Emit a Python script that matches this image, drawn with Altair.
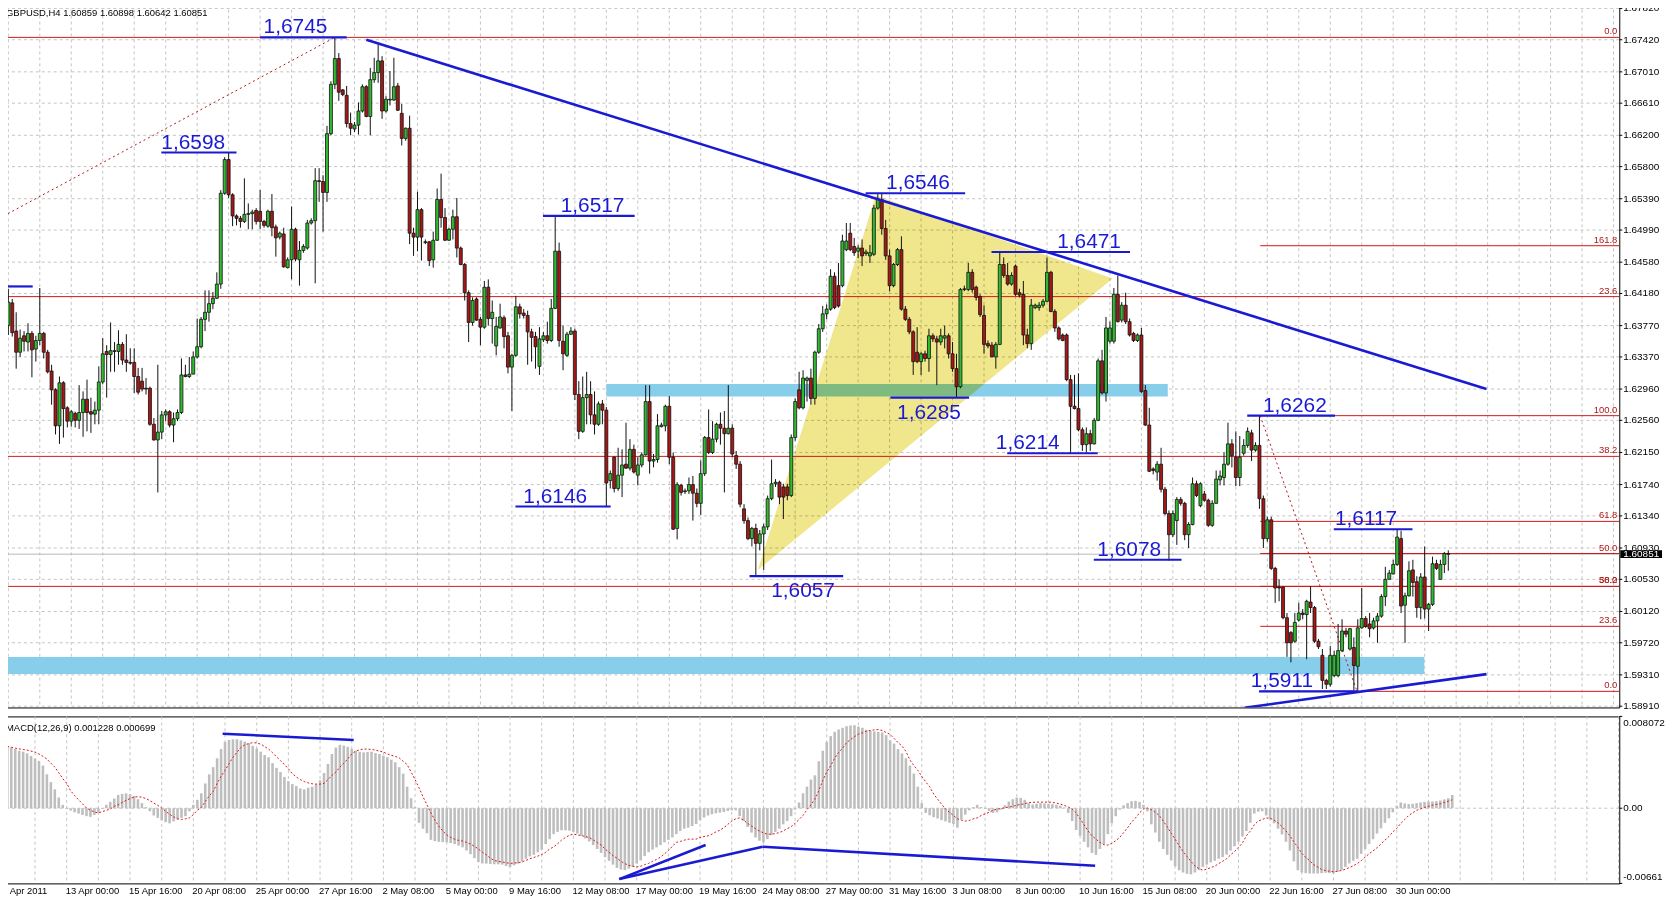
import altair as alt
import pandas as pd

FONT = "Liberation Sans"
BLUE = "#1a1ad2"
FIB_RED = "#d01818"
BULL = "#2fbd2f"
BEAR = "#a81616"

# ---------------- time axis ----------------
time_labels = [
    "8 Apr 2011", "13 Apr 00:00", "15 Apr 16:00", "20 Apr 08:00", "25 Apr 00:00",
    "27 Apr 16:00", "2 May 08:00", "5 May 00:00", "9 May 16:00", "12 May 08:00",
    "17 May 00:00", "19 May 16:00", "24 May 08:00", "27 May 00:00", "31 May 16:00",
    "3 Jun 08:00", "8 Jun 00:00", "10 Jun 16:00", "15 Jun 08:00", "20 Jun 00:00",
    "22 Jun 16:00", "27 Jun 08:00", "30 Jun 00:00",
]
BARS_PER_LABEL = 16
GRID_EVERY = 8

# ---------------- GBPUSD H4 candles (price x 10000) ----------------
open_pips = [
    16377,16406,16370,16343,16364,16356,16367,16347,16358,16367,
    16343,16319,16295,16249,16304,16272,16255,16265,16256,16266,
    16283,16267,16264,16269,16305,16344,16340,16345,16344,16353,
    16333,16330,16330,16312,16306,16297,16297,16251,16231,16241,
    16263,16267,16250,16258,16266,16314,16312,16315,16337,16350,
    16385,16394,16405,16412,16430,16546,16589,16544,16517,16514,
    16510,16519,16520,16524,16523,16510,16504,16523,16503,16490,
    16494,16451,16461,16500,16461,16473,16476,16508,16511,16562,
    16561,16547,16622,16685,16718,16678,16671,16635,16628,16633,
    16651,16682,16644,16691,16700,16715,16651,16665,16665,16683,
    16648,16616,16629,16495,16490,16525,16484,16484,16461,16486,
    16538,16515,16486,16500,16516,16476,16455,16419,16381,16411,
    16385,16375,16426,16386,16351,16374,16387,16364,16324,16339,
    16401,16393,16390,16369,16363,16325,16359,16364,16358,16399,
    16472,16357,16339,16366,16370,16289,16242,16285,16289,16263,
    16251,16277,16269,16179,16209,16169,16186,16200,16195,16219,
    16186,16199,16212,16280,16204,16206,16248,16249,16274,16209,
    16118,16173,16165,16166,16174,16163,16150,16188,16234,16215,
    16232,16251,16246,16239,16246,16211,16200,16143,16128,16105,
    16118,16099,16111,16120,16156,16175,16177,16171,16171,16160,
    16234,16295,16272,16307,16310,16284,16343,16373,16392,16398,
    16440,16428,16428,16474,16495,16478,16472,16476,16469,16466,
    16468,16527,16538,16501,16466,16428,16455,16474,16398,16385,
    16369,16343,16331,16341,16335,16364,16360,16356,16361,16364,
    16341,16322,16299,16423,16423,16445,16426,16414,16390,16354,
    16352,16337,16353,16455,16441,16430,16453,16419,16417,16365,
    16354,16400,16400,16403,16408,16445,16395,16374,16365,16365,
    16308,16274,16271,16244,16225,16239,16226,16256,16332,16291,
    16357,16357,16417,16384,16403,16382,16367,16358,16365,16294,
    16250,16194,16190,16200,16168,16137,16110,16128,16155,16150,
    16110,16123,16175,16147,16162,16154,16122,16150,16180,16183,
    16200,16226,16209,16183,16214,16224,16240,16218,16224,16156,
    16105,16129,16067,16043,16043,16004,15985,15974,16001,16010,
    16008,16024,16017,15974,15956,15924,15919,15930,15930,15962,
    15987,15964,15966,15942,15991,16003,15996,15991,16000,16006,
    16031,16053,16060,16072,16105,16020,16032,16065,16050,16017,
    16056,16015,16021,16073,16053,16072,16086,
]
high_pips = [
    16424,16411,16394,16372,16370,16380,16370,16364,16425,16369,
    16346,16327,16297,16312,16306,16274,16269,16267,16301,16293,
    16308,16285,16280,16325,16361,16352,16381,16356,16371,16356,
    16366,16348,16348,16323,16323,16310,16299,16259,16327,16268,
    16270,16269,16266,16270,16335,16327,16337,16344,16386,16388,
    16422,16422,16420,16445,16550,16592,16598,16546,16519,16517,
    16565,16533,16525,16527,16550,16512,16525,16545,16506,16497,
    16502,16464,16529,16502,16485,16481,16512,16514,16578,16578,
    16569,16632,16689,16745,16725,16679,16683,16649,16637,16662,
    16685,16684,16706,16719,16736,16721,16670,16702,16719,16687,
    16660,16630,16645,16502,16548,16527,16487,16485,16497,16552,
    16571,16527,16502,16525,16540,16478,16457,16422,16413,16413,
    16388,16434,16436,16409,16388,16405,16390,16369,16341,16415,
    16405,16398,16396,16373,16369,16375,16369,16382,16411,16517,
    16483,16377,16369,16375,16373,16306,16312,16318,16306,16293,
    16280,16282,16273,16192,16210,16221,16219,16253,16232,16225,
    16209,16215,16301,16301,16213,16264,16253,16276,16287,16215,
    16177,16175,16169,16183,16185,16169,16205,16236,16270,16255,
    16253,16266,16268,16301,16251,16217,16204,16149,16132,16120,
    16124,16116,16124,16160,16206,16181,16179,16175,16175,16238,
    16284,16318,16320,16312,16322,16345,16379,16402,16404,16449,
    16445,16457,16493,16508,16508,16489,16480,16487,16474,16480,
    16531,16545,16546,16512,16474,16457,16476,16491,16402,16388,
    16371,16375,16343,16345,16373,16367,16364,16373,16377,16367,
    16356,16341,16425,16428,16457,16449,16428,16417,16403,16358,
    16356,16356,16471,16464,16457,16445,16455,16424,16434,16373,
    16411,16405,16407,16411,16464,16447,16398,16376,16367,16367,
    16314,16314,16316,16247,16247,16244,16259,16335,16346,16388,
    16382,16425,16441,16407,16419,16386,16369,16367,16374,16301,
    16272,16196,16204,16221,16171,16141,16141,16158,16158,16152,
    16126,16183,16179,16177,16166,16156,16154,16192,16192,16215,
    16253,16232,16242,16236,16232,16247,16244,16228,16262,16160,
    16133,16133,16069,16053,16044,16010,15987,16010,16023,16015,
    16027,16044,16019,15977,15964,15926,15968,15962,15996,16002,
    15991,15991,15979,16002,16042,16006,16010,16004,16010,16034,
    16069,16065,16078,16117,16115,16036,16076,16078,16057,16061,
    16095,16023,16082,16078,16078,16088,16090,
]
low_pips = [
    16365,16363,16322,16337,16344,16344,16311,16331,16352,16335,
    16316,16276,16238,16226,16234,16247,16248,16247,16245,16235,
    16242,16240,16251,16251,16302,16285,16318,16318,16327,16327,
    16318,16327,16291,16289,16293,16289,16249,16230,16164,16232,
    16255,16247,16228,16255,16264,16311,16310,16315,16335,16348,
    16370,16382,16398,16411,16424,16544,16540,16504,16505,16502,
    16508,16500,16500,16506,16500,16502,16502,16491,16465,16487,
    16451,16450,16436,16459,16428,16470,16474,16506,16431,16535,
    16497,16535,16620,16679,16664,16670,16630,16620,16624,16621,
    16649,16643,16620,16687,16687,16641,16649,16658,16664,16651,
    16607,16613,16481,16466,16472,16460,16481,16453,16451,16485,
    16502,16485,16485,16487,16464,16454,16409,16356,16377,16383,
    16352,16373,16377,16354,16339,16373,16348,16316,16268,16337,
    16386,16386,16327,16331,16322,16314,16356,16354,16356,16398,
    16350,16320,16337,16365,16282,16232,16240,16251,16251,16238,
    16249,16251,16146,16169,16164,16166,16158,16194,16192,16188,
    16173,16196,16211,16188,16196,16202,16247,16242,16200,16116,
    16104,16160,16162,16162,16128,16145,16135,16185,16213,16213,
    16228,16225,16164,16238,16209,16194,16145,16124,16103,16095,
    16057,16090,16065,16116,16154,16171,16149,16130,16154,16158,
    16230,16270,16270,16280,16276,16276,16341,16369,16385,16396,
    16398,16400,16426,16472,16472,16466,16463,16453,16466,16457,
    16466,16525,16493,16461,16421,16426,16453,16396,16383,16366,
    16314,16329,16314,16331,16318,16356,16301,16352,16348,16335,
    16318,16285,16297,16421,16421,16419,16409,16388,16341,16348,
    16337,16322,16352,16438,16428,16428,16415,16413,16352,16348,
    16346,16398,16396,16400,16407,16394,16369,16358,16357,16306,
    16213,16270,16242,16217,16215,16217,16225,16255,16289,16280,
    16354,16354,16381,16381,16379,16363,16356,16356,16291,16249,
    16190,16187,16179,16164,16135,16077,16107,16097,16147,16103,
    16093,16122,16158,16145,16152,16120,16120,16150,16173,16173,
    16198,16196,16172,16172,16211,16221,16204,16216,16143,16093,
    16101,16065,16023,16025,16002,15954,15947,15972,15999,16002,
    15951,16010,15972,15964,15913,15913,15916,15928,15928,15960,
    15979,15962,15911,15910,15990,15991,15979,15989,15972,16004,
    16019,16053,16059,16070,16010,15972,16031,16031,16004,16002,
    16003,15987,16019,16065,16053,16061,16064,
]
close_pips = [
    16407,16368,16343,16361,16357,16367,16346,16358,16367,16343,
    16318,16295,16249,16304,16271,16255,16267,16256,16266,16283,
    16266,16264,16269,16305,16341,16340,16345,16344,16353,16333,
    16330,16329,16312,16292,16296,16296,16251,16231,16241,16263,
    16267,16250,16258,16266,16314,16312,16315,16337,16350,16385,
    16394,16405,16412,16430,16546,16589,16544,16517,16514,16510,
    16519,16520,16522,16510,16510,16505,16523,16502,16489,16495,
    16452,16461,16500,16462,16473,16478,16508,16511,16562,16561,
    16547,16622,16685,16718,16675,16672,16635,16629,16633,16651,
    16682,16644,16691,16700,16715,16651,16666,16666,16682,16652,
    16616,16629,16495,16490,16525,16490,16483,16460,16486,16538,
    16515,16486,16500,16516,16476,16455,16419,16381,16409,16384,
    16375,16426,16386,16394,16376,16388,16363,16324,16339,16401,
    16392,16390,16369,16362,16350,16360,16364,16358,16399,16472,
    16358,16341,16366,16370,16289,16242,16285,16289,16263,16251,
    16277,16269,16176,16188,16169,16186,16199,16195,16219,16190,
    16199,16212,16280,16204,16206,16249,16250,16274,16209,16117,
    16174,16164,16166,16174,16163,16150,16188,16234,16215,16232,
    16251,16246,16239,16246,16213,16200,16149,16128,16105,16118,
    16099,16111,16120,16156,16175,16177,16158,16158,16160,16234,
    16280,16272,16310,16310,16284,16343,16373,16392,16398,16440,
    16400,16402,16485,16485,16474,16470,16476,16466,16471,16470,
    16527,16538,16501,16466,16428,16455,16474,16398,16385,16369,
    16331,16331,16341,16335,16364,16360,16356,16364,16364,16341,
    16322,16299,16423,16424,16445,16423,16413,16391,16353,16351,
    16337,16353,16455,16441,16430,16441,16417,16416,16365,16354,
    16403,16403,16403,16408,16445,16395,16374,16360,16358,16308,
    16274,16271,16244,16225,16239,16226,16256,16332,16291,16374,
    16374,16417,16382,16403,16382,16365,16358,16365,16293,16250,
    16191,16192,16200,16168,16137,16110,16137,16155,16150,16110,
    16123,16175,16160,16175,16154,16122,16150,16181,16185,16200,
    16226,16211,16183,16209,16224,16242,16218,16224,16156,16105,
    16129,16067,16042,16042,16004,15972,15972,15998,16010,16008,
    16025,16017,15974,15967,15924,15919,15956,15956,15962,15987,
    15983,15990,15943,15991,16003,15993,15990,16000,16006,16031,
    16053,16061,16072,16107,16019,16032,16064,16049,16017,16056,
    16015,16021,16073,16067,16072,16086,16085,
]

# ---------------- MACD(12,26,9) (value x 100000) ----------------
macd_main_e5 = [
    557,548,534,520,505,497,482,459,436,416,
    375,298,229,166,94,30,-7,-21,-36,-47,
    -59,-70,-76,-59,-36,-7,30,56,85,117,
    125,131,123,108,79,45,10,-27,-64,-85,
    -105,-122,-133,-116,-99,-85,-70,-27,30,74,
    131,218,298,361,439,520,583,600,606,606,
    597,586,571,548,525,497,468,448,396,355,
    318,275,238,212,195,174,166,180,189,209,
    246,309,390,477,534,557,551,540,522,505,
    497,491,494,497,485,477,462,448,427,404,
    361,304,189,88,10,-128,-180,-220,-278,-289,
    -295,-298,-300,-306,-315,-329,-344,-372,-404,-439,
    -473,-485,-487,-490,-493,-493,-496,-508,-516,-502,
    -487,-467,-444,-424,-410,-387,-364,-315,-272,-228,
    -208,-194,-194,-197,-208,-223,-243,-266,-292,-324,
    -358,-393,-430,-462,-496,-525,-539,-545,-531,-516,
    -487,-459,-421,-387,-364,-344,-324,-300,-278,-257,
    -228,-200,-180,-171,-157,-139,-105,-82,-64,-53,
    -44,-39,-33,-24,-18,-18,-70,-113,-165,-214,
    -257,-286,-300,-272,-237,-208,-180,-142,-113,-70,
    -13,51,131,189,252,289,413,505,583,634,
    672,692,707,721,727,730,718,707,689,681,
    675,672,666,643,597,568,520,482,439,375,
    304,189,45,-41,-62,-79,-90,-105,-116,-128,
    -139,-171,-99,-56,-18,10,30,10,-7,-24,
    -41,-36,-13,27,59,79,94,91,74,45,
    33,39,45,42,39,36,30,22,7,-41,
    -113,-191,-243,-295,-344,-393,-410,-358,-315,-228,
    -133,-70,-13,25,45,62,65,56,30,-27,
    -142,-214,-295,-358,-410,-459,-510,-545,-565,-577,
    -582,-565,-545,-516,-496,-476,-462,-444,-430,-407,
    -372,-335,-295,-249,-200,-128,-47,-30,-27,-64,
    -99,-133,-180,-231,-295,-372,-467,-545,-565,-571,
    -574,-574,-574,-571,-568,-571,-574,-559,-542,-516,
    -485,-462,-444,-401,-358,-315,-272,-223,-177,-128,
    -88,-36,22,51,42,36,39,45,51,56,
    59,59,62,68,77,88,117,
]
macd_signal_e5 = [
    551,543,537,528,522,517,511,502,494,477,
    456,433,396,361,312,261,218,154,111,74,
    39,2,-18,-33,-41,-30,-18,-7,16,30,
    51,68,85,97,102,97,85,68,45,25,
    2,-27,-53,-76,-93,-99,-93,-85,-56,-18,
    7,59,108,146,218,281,333,390,448,491,
    534,557,568,577,574,563,543,520,488,453,
    419,384,347,304,275,252,235,223,215,212,
    212,218,252,289,318,361,396,433,477,502,
    514,520,520,517,511,502,494,477,465,456,
    442,413,384,318,252,180,102,30,-41,-105,
    -157,-200,-234,-257,-272,-283,-289,-300,-315,-335,
    -358,-387,-410,-439,-459,-467,-473,-479,-485,-482,
    -479,-473,-459,-444,-433,-421,-407,-387,-358,-341,
    -312,-281,-257,-237,-228,-234,-240,-249,-257,-278,
    -300,-324,-358,-387,-416,-439,-467,-487,-502,-510,
    -516,-510,-496,-485,-467,-450,-430,-401,-372,-335,
    -300,-292,-281,-272,-272,-272,-257,-249,-243,-228,
    -208,-194,-171,-142,-113,-93,-85,-105,-133,-157,
    -180,-200,-217,-228,-228,-223,-214,-200,-180,-162,
    -133,-99,-64,-13,30,79,154,246,318,375,
    439,491,528,577,603,629,652,663,678,683,
    689,692,683,666,649,614,577,548,500,425,
    375,333,281,232,189,125,79,36,-7,-36,
    -64,-93,-105,-113,-108,-93,-85,-64,-50,-36,
    -18,-7,-4,5,10,16,27,33,39,51,
    51,54,54,54,54,51,45,36,25,10,
    -7,-41,-93,-145,-200,-243,-272,-300,-321,-324,
    -309,-286,-257,-214,-171,-122,-85,-41,-7,2,
    -13,-36,-64,-113,-162,-220,-272,-329,-381,-424,
    -467,-507,-531,-545,-536,-522,-510,-487,-467,-444,
    -410,-381,-344,-306,-243,-200,-145,-113,-99,-85,
    -88,-105,-128,-162,-200,-243,-295,-344,-396,-433,
    -462,-496,-516,-539,-548,-554,-559,-554,-548,-536,
    -522,-507,-487,-462,-430,-401,-375,-347,-315,-281,
    -249,-208,-177,-133,-99,-64,-41,-18,-7,7,
    16,27,33,39,51,62,74,
]

# ---------------- axis ticks ----------------
price_ticks = [1.67820, 1.67420, 1.67010, 1.66610, 1.66200, 1.65800, 1.65390, 1.64990,
               1.64580, 1.64180, 1.63770, 1.63370, 1.62960, 1.62560, 1.62150, 1.61740,
               1.61340, 1.60930, 1.60530, 1.60120, 1.59720, 1.59310, 1.58910]
macd_top, macd_zero, macd_bottom = 0.008072, 0.0, -0.00661
macd_tick_text = ["0.008072", "0.00", "-0.00661"]
last_price = 1.60851

# ---------------- annotations ----------------
level_text = ["1,6745", "1,6598", "1,6517", "1,6146", "1,6057", "1,6546", "1,6285",
              "1,6471", "1,6214", "1,6078", "1,6262", "1,6117", "1,5911"]
level_price = [1.6745, 1.6598, 1.6517, 1.6146, 1.6057, 1.6546, 1.6285,
               1.6471, 1.6214, 1.6078, 1.6262, 1.6117, 1.5910]
level_start = [64.0, 38.9, 135.9, 128.9, 188.4, 217.9, 224.2, 249.9, 253.9, 275.9, 314.9, 336.9, 317.9]
level_end = [86.0, 58.0, 159.2, 153.1, 212.2, 243.2, 244.2, 285.1, 276.9, 298.2, 337.2, 356.9, 342.9]
level_label_bar = [73.0, 47.0, 148.5, 139.0, 202.0, 231.2, 234.0, 274.7, 259.1, 284.9, 327.0, 345.1, 323.7]
level_label_side = ["above", "above", "above", "above", "below", "above", "below",
                    "above", "above", "above", "above", "above", "above"]
stub_start, stub_end, stub_price = -0.08, 6.2, 1.6427

trend_start_bar = [91.0, 314.2]
trend_start_price = [1.6742, 1.5889]
trend_end_bar = [375.7, 375.7]
trend_end_price = [1.6296, 1.5932]

zone_start = [152.0, -0.08]
zone_end = [294.7, 359.9]
zone_low = [1.62865, 1.5932]
zone_high = [1.63025, 1.5954]

tri_bar = [190.5, 220.5, 280.7]
tri_price = [1.6065, 1.6543, 1.6437]

fib_main_price = [1.6745, 1.6414, 1.6210, 1.6044]
fib_main_label = ["0.0", "23.6", "38.2", "50.0"]
fib_recent_price = [1.5910, 1.5993, 1.6044, 1.6086, 1.6127, 1.6262, 1.6479]
fib_recent_label = ["0.0", "23.6", "38.2", "50.0", "61.8", "100.0", "161.8"]
fib_recent_start = 318.2
fib_trend_start_bar = [-0.08, 318.2]
fib_trend_start_price = [1.6520, 1.6262]
fib_trend_end_bar = [83.0, 342.8]
fib_trend_end_price = [1.6745, 1.5910]

macd_line_start_bar = [55.4, 155.6, 155.6, 191.8]
macd_line_start_val = [0.00655, -0.00623, -0.00623, -0.00338]
macd_line_end_bar = [88.5, 177.4, 191.8, 275.8]
macd_line_end_val = [0.00600, -0.00323, -0.00338, -0.00506]

title_main = "GBPUSD,H4  1.60859 1.60898 1.60642 1.60851"
title_macd = "MACD(12,26,9) 0.001228 0.000699"

# ---------------- layout ----------------
W, H1, H2 = 1626, 708, 168
X_DOMAIN = [-0.08, 408.2]
Y_DOMAIN = [1.58894, 1.67880]
M_DOMAIN = [macd_bottom, macd_top]
AX_FS = 10

xs = alt.Scale(domain=X_DOMAIN, nice=False, zero=False)
ys = alt.Scale(domain=Y_DOMAIN, nice=False, zero=False)
ms = alt.Scale(domain=M_DOMAIN, nice=False, zero=False)


def X(f):
    return alt.X(f"{f}:Q", scale=xs, axis=None)


def Y(f):
    return alt.Y(f"{f}:Q", scale=ys, axis=None)


def M(f):
    return alt.Y(f"{f}:Q", scale=ms, axis=None)


# ---------------- tables ----------------
n = len(close_pips)
candles = pd.DataFrame({
    "bar": list(range(n)),
    "open": [v / 10000 for v in open_pips],
    "high": [v / 10000 for v in high_pips],
    "low": [v / 10000 for v in low_pips],
    "close": [v / 10000 for v in close_pips],
})
candles["dir"] = ["up" if c >= o else "down" for o, c in zip(candles["open"], candles["close"])]

macd = pd.DataFrame({
    "bar": list(range(len(macd_main_e5))),
    "h": [v / 100000 for v in macd_main_e5],
    "s": [v / 100000 for v in macd_signal_e5],
})

grid_bars = pd.DataFrame({"b": list(range(0, int(X_DOMAIN[1]) + 1, GRID_EVERY))})
price_lab = pd.DataFrame({"p": price_ticks, "t": [f"{p:.5f}" for p in price_ticks]})
time_lab = pd.DataFrame({"b": [BARS_PER_LABEL * k for k in range(len(time_labels))], "t": time_labels})

levels = pd.DataFrame({"t": level_text, "p": level_price, "b0": level_start, "b1": level_end,
                       "b": level_label_bar, "side": level_label_side})
level_lines = pd.concat([levels[["p", "b0", "b1"]],
                         pd.DataFrame({"p": [stub_price], "b0": [stub_start], "b1": [stub_end]})])
trends = pd.DataFrame({"b0": trend_start_bar, "p0": trend_start_price,
                       "b1": trend_end_bar, "p1": trend_end_price})
zones = pd.DataFrame({"b0": zone_start, "b1": zone_end, "p0": zone_low, "p1": zone_high})
lower_mid = tri_price[0] + (tri_price[2] - tri_price[0]) * (tri_bar[1] - tri_bar[0]) / (tri_bar[2] - tri_bar[0])
tri = pd.DataFrame({"b": tri_bar, "top": tri_price,
                    "bottom": [tri_price[0], lower_mid, tri_price[2]]})
fib_main = pd.DataFrame({"p": fib_main_price, "t": fib_main_label})
fib_recent = pd.DataFrame({"p": fib_recent_price, "t": fib_recent_label,
                           "b0": [fib_recent_start] * len(fib_recent_price)})
fib_trends = pd.DataFrame({"b0": fib_trend_start_bar, "p0": fib_trend_start_price,
                           "b1": fib_trend_end_bar, "p1": fib_trend_end_price})
macd_lines = pd.DataFrame({"b0": macd_line_start_bar, "v0": macd_line_start_val,
                           "b1": macd_line_end_bar, "v1": macd_line_end_val})
price_box = pd.DataFrame({"p": [last_price], "top": [last_price + 0.0005], "bot": [last_price - 0.0005],
                          "t": [f"{last_price:.5f}"]})

GRID = dict(color="#c4c4c4", strokeDash=[3, 3], strokeWidth=1)
AXT = dict(font=FONT, fontSize=AX_FS, color="black")

# ---------------- main panel ----------------
hgrid = alt.Chart(price_lab).mark_rule(**GRID).encode(y=Y("p"))
vgrid = alt.Chart(grid_bars).mark_rule(**GRID).encode(x=X("b"))
cur_line = alt.Chart(price_box).mark_rule(color="#b8b8b8", strokeWidth=1).encode(y=Y("p"))
zone_l = alt.Chart(zones).mark_rect(color="#87ceeb").encode(x=X("b0"), x2="b1", y=Y("p0"), y2="p1")
tri_l = alt.Chart(tri).mark_area(color="#f0e68c", blend="multiply", opacity=1).encode(
    x=X("b"), y=Y("top"), y2="bottom")
fib_main_l = alt.Chart(fib_main).mark_rule(color=FIB_RED, strokeWidth=1).encode(y=Y("p"))
fib_recent_l = alt.Chart(fib_recent).mark_rule(color=FIB_RED, strokeWidth=1).encode(
    x=X("b0"), x2=alt.value(W), y=Y("p"))
fib_main_t = alt.Chart(fib_main).mark_text(align="right", baseline="bottom", dx=-2, dy=-1,
                                           fontSize=9.5, font=FONT, color="#b01818").encode(
    x=alt.value(W), y=Y("p"), text="t:N")
fib_recent_t = alt.Chart(fib_recent).mark_text(align="right", baseline="bottom", dx=-2, dy=-1,
                                               fontSize=9.5, font=FONT, color="#b01818").encode(
    x=alt.value(W), y=Y("p"), text="t:N")
fib_trend_l = alt.Chart(fib_trends).mark_rule(color="#b01818", strokeDash=[2, 3], strokeWidth=1,
                                              clip=True).encode(
    x=X("b0"), x2="b1", y=Y("p0"), y2="p1")
wicks = alt.Chart(candles).mark_rule(color="#101010", strokeWidth=1).encode(
    x=X("bar"), y=Y("low"), y2="high")
bodies = alt.Chart(candles).mark_bar(size=3, stroke="#101010", strokeWidth=0.8, orient="vertical").encode(
    x=X("bar"), y=Y("open"), y2="close",
    fill=alt.Fill("dir:N", scale=alt.Scale(domain=["up", "down"], range=[BULL, BEAR]), legend=None))
level_l = alt.Chart(level_lines).mark_rule(color=BLUE, strokeWidth=2.2).encode(
    x=X("b0"), x2="b1", y=Y("p"))
trend_l = alt.Chart(trends).mark_rule(color=BLUE, strokeWidth=2.6, clip=True).encode(
    x=X("b0"), x2="b1", y=Y("p0"), y2="p1")
lab_above = alt.Chart(levels).transform_filter("datum.side == 'above'").mark_text(
    fontSize=21, font=FONT, color=BLUE, baseline="alphabetic", dy=-4).encode(
    x=X("b"), y=Y("p"), text="t:N")
lab_below = alt.Chart(levels).transform_filter("datum.side == 'below'").mark_text(
    fontSize=21, font=FONT, color=BLUE, baseline="top", dy=4).encode(
    x=X("b"), y=Y("p"), text="t:N")
title_l = alt.Chart(pd.DataFrame({"t": [title_main]})).mark_text(
    align="left", baseline="alphabetic", fontSize=9.5, font=FONT, color="black").encode(
    x=alt.value(3), y=alt.value(12), text="t:N")
# right price scale
p_ticks = alt.Chart(price_lab).mark_rule(color="black", strokeWidth=1).encode(
    x=alt.value(W), x2=alt.value(W + 3), y=Y("p"))
p_text = alt.Chart(price_lab).mark_text(align="left", baseline="middle", **AXT).encode(
    x=alt.value(W + 4), y=Y("p"), text="t:N")
box_l = alt.Chart(price_box).mark_rect(color="black").encode(
    x=alt.value(W + 1), x2=alt.value(W + 43), y=Y("top"), y2="bot")
box_t = alt.Chart(price_box).mark_text(align="left", baseline="middle", fontSize=AX_FS, font=FONT,
                                       color="white").encode(
    x=alt.value(W + 4), y=Y("p"), text="t:N")

main = alt.layer(hgrid, vgrid, cur_line, zone_l, tri_l, fib_main_l, fib_recent_l, fib_trend_l,
                 wicks, bodies, level_l, trend_l, fib_main_t, fib_recent_t, lab_above, lab_below,
                 title_l, p_ticks, p_text, box_l, box_t).properties(width=W, height=H1)

# ---------------- MACD panel ----------------
hist = alt.Chart(macd).mark_rule(color="#bebebe", strokeWidth=2.6).encode(
    x=X("bar"), y=M("h"), y2=alt.datum(0))
sig = alt.Chart(macd).mark_line(color="#d81818", strokeDash=[2, 2], strokeWidth=1).encode(
    x=X("bar"), y=M("s"))
m_vgrid = alt.Chart(grid_bars).mark_rule(**GRID).encode(x=X("b"))
m_zero = alt.Chart(pd.DataFrame({"z": [macd_zero]})).mark_rule(**GRID).encode(y=M("z"))
m_lines = alt.Chart(macd_lines).mark_rule(color=BLUE, strokeWidth=2.6).encode(
    x=X("b0"), x2="b1", y=M("v0"), y2="v1")
m_title = alt.Chart(pd.DataFrame({"t": [title_macd]})).mark_text(
    align="left", baseline="alphabetic", fontSize=9.5, font=FONT, color="black").encode(
    x=alt.value(3), y=alt.value(15), text="t:N")
m_ticks = alt.Chart(pd.DataFrame({"v": [macd_top, macd_zero, macd_bottom]})).mark_rule(
    color="black", strokeWidth=1).encode(x=alt.value(W), x2=alt.value(W + 3), y=M("v"))
m_top_t = alt.Chart(pd.DataFrame({"t": [macd_tick_text[0]]})).mark_text(
    align="left", baseline="top", **AXT).encode(x=alt.value(W + 4), y=alt.value(2), text="t:N")
m_zero_t = alt.Chart(pd.DataFrame({"v": [macd_zero], "t": [macd_tick_text[1]]})).mark_text(
    align="left", baseline="middle", **AXT).encode(x=alt.value(W + 4), y=M("v"), text="t:N")
m_bot_t = alt.Chart(pd.DataFrame({"t": [macd_tick_text[2]]})).mark_text(
    align="left", baseline="bottom", **AXT).encode(x=alt.value(W + 4), y=alt.value(H2 - 1), text="t:N")
# bottom time scale
t_text = alt.Chart(time_lab).mark_text(align="left", baseline="top", dx=-1, font=FONT,
                                       fontSize=9.5, color="black").encode(
    x=X("b"), y=alt.value(H2 + 3), text="t:N")

macd_panel = alt.layer(m_vgrid, m_zero, hist, sig, m_lines, m_title, m_ticks, m_top_t, m_zero_t,
                       m_bot_t, t_text).properties(width=W, height=H2)

chart = alt.vconcat(main, macd_panel, spacing=3).properties(
    padding={"left": -8, "top": -8, "right": 0, "bottom": 0}, background="white"
).configure_view(stroke="black", strokeWidth=1)

chart.save("out.html", embed_options={"renderer": "svg", "actions": False})
